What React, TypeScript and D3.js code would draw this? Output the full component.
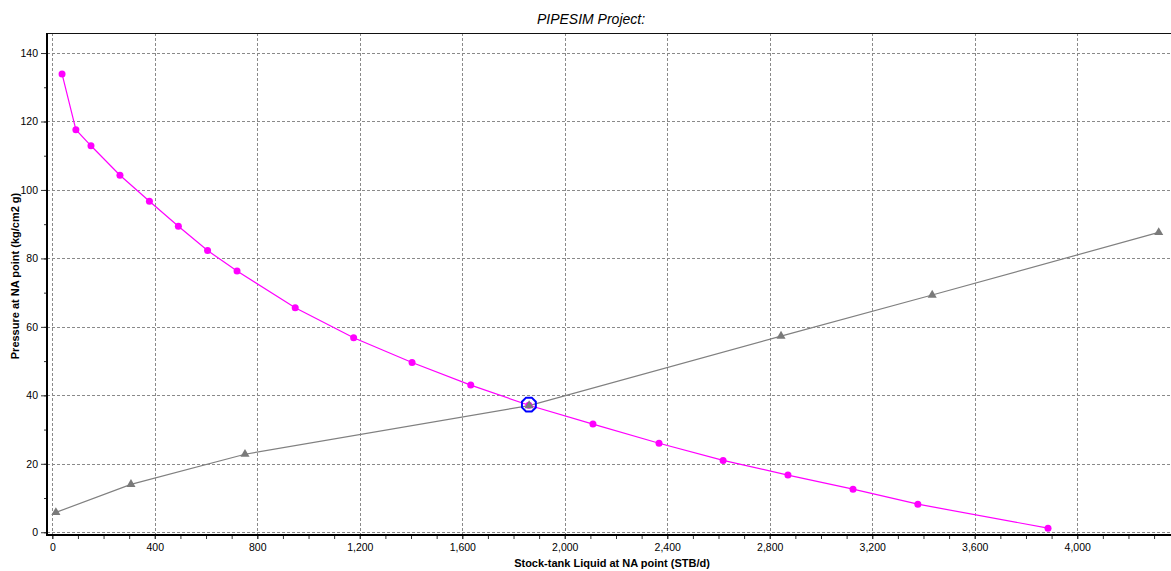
import React, { useEffect, useRef } from "react";
import * as d3 from "d3";

// Outflow (system) curve: pressure at NA point vs liquid rate
const outflowRate = [38, 92, 151, 264, 379, 492, 606, 721, 948, 1176, 1404, 1633, 1860, 2110, 2368, 2618, 2871, 3125, 3378, 3886];
const outflowPressure = [133.9, 117.6, 112.9, 104.3, 96.7, 89.4, 82.3, 76.3, 65.6, 56.8, 49.6, 43.0, 37.1, 31.6, 26.0, 21.0, 16.7, 12.6, 8.2, 1.2];

// Inflow curve
const inflowRate = [14, 307, 752, 1861, 2844, 3434, 4318];
const inflowPressure = [5.8, 14.0, 22.8, 37.0, 57.3, 69.3, 87.6];

// Operating point (intersection)
const operatingRate = [1860];
const operatingPressure = [37.3];

const xTicks = [0, 400, 800, 1200, 1600, 2000, 2400, 2800, 3200, 3600, 4000];
const yTicks = [0, 20, 40, 60, 80, 100, 120, 140];

const W = 1171;
const H = 571;
const left = 47;
const right = 1171;
const top = 33;
const bottom = 535;

const FONT = "'Liberation Sans', Arial, sans-serif";

export default function App() {
  const ref = useRef<SVGSVGElement | null>(null);

  useEffect(() => {
    const svg = d3.select(ref.current);
    svg.selectAll("*").remove();

    const x = d3.scaleLinear().domain([-20.7, 4366]).range([left, right]);
    const y = d3.scaleLinear().domain([-0.8, 145.85]).range([bottom, top]);

    svg.append("rect").attr("width", W).attr("height", H).attr("fill", "#fff");

    // title
    svg
      .append("text")
      .attr("x", 591)
      .attr("y", 24)
      .attr("text-anchor", "middle")
      .attr("font-family", FONT)
      .attr("font-style", "italic")
      .attr("font-size", 14)
      .attr("fill", "#000")
      .text("PIPESIM Project:");

    // grid
    const grid = svg.append("g").attr("stroke", "#8a8a8a").attr("stroke-dasharray", "3,2").attr("stroke-width", 1);
    xTicks.forEach((t) => {
      const px = Math.round(x(t)) + 0.5;
      grid.append("line").attr("x1", px).attr("x2", px).attr("y1", top).attr("y2", bottom);
    });
    yTicks.forEach((t) => {
      const py = Math.round(y(t)) + 0.5;
      grid.append("line").attr("x1", left).attr("x2", right).attr("y1", py).attr("y2", py);
    });

    // frame
    svg.append("line").attr("x1", left).attr("x2", right).attr("y1", top + 0.5).attr("y2", top + 0.5).attr("stroke", "#111").attr("stroke-width", 1);

    // x axis
    const xMinor = d3.range(0, 4400, 100);
    const xAxisMinor = d3.axisBottom(x).tickValues(xMinor).tickSize(4).tickFormat(() => "");
    const gxm = svg.append("g").attr("transform", `translate(0,${bottom})`).call(xAxisMinor);
    gxm.select(".domain").remove();
    gxm.selectAll("line").attr("stroke", "#333");

    const xAxis = d3.axisBottom(x).tickValues(xTicks).tickSize(4).tickPadding(5).tickFormat(d3.format(","));
    const gx = svg.append("g").attr("transform", `translate(0,${bottom})`).call(xAxis);
    gx.select(".domain").remove();
    gx.selectAll("line").attr("stroke", "#333");
    gx.selectAll("text").attr("font-family", FONT).attr("font-size", 10.5).attr("fill", "#000");

    // y axis
    const yMinor = d3.range(0, 150, 10);
    const yAxisMinor = d3.axisLeft(y).tickValues(yMinor).tickSize(3).tickFormat(() => "");
    const gym = svg.append("g").attr("transform", `translate(${left},0)`).call(yAxisMinor);
    gym.select(".domain").remove();
    gym.selectAll("line").attr("stroke", "#333");

    const yAxis = d3.axisLeft(y).tickValues(yTicks).tickSize(6).tickPadding(3).tickFormat(d3.format("d"));
    const gy = svg.append("g").attr("transform", `translate(${left},0)`).call(yAxis);
    gy.select(".domain").remove();
    gy.selectAll("line").attr("stroke", "#333");
    gy.selectAll("text").attr("font-family", FONT).attr("font-size", 10.5).attr("fill", "#000");

    // axis lines
    svg.append("line").attr("x1", left).attr("x2", left).attr("y1", top).attr("y2", bottom + 1).attr("stroke", "#000").attr("stroke-width", 2);
    svg.append("line").attr("x1", left - 1).attr("x2", right).attr("y1", bottom).attr("y2", bottom).attr("stroke", "#000").attr("stroke-width", 2);

    // axis titles
    svg
      .append("text")
      .attr("x", 612)
      .attr("y", 567)
      .attr("text-anchor", "middle")
      .attr("font-family", FONT)
      .attr("font-weight", "bold")
      .attr("font-size", 11)
      .text("Stock-tank Liquid at NA point (STB/d)");
    svg
      .append("text")
      .attr("transform", "translate(19,276) rotate(-90)")
      .attr("text-anchor", "middle")
      .attr("font-family", FONT)
      .attr("font-weight", "bold")
      .attr("font-size", 11)
      .text("Pressure at NA point (kg/cm2 g)");

    const line = d3
      .line<[number, number]>()
      .x((d) => x(d[0]))
      .y((d) => y(d[1]));

    const inflow: [number, number][] = inflowRate.map((r, i) => [r, inflowPressure[i]]);
    const outflow: [number, number][] = outflowRate.map((r, i) => [r, outflowPressure[i]]);

    svg.append("path").datum(inflow).attr("d", line).attr("fill", "none").attr("stroke", "#808080").attr("stroke-width", 1.2);
    svg.append("path").datum(outflow).attr("d", line).attr("fill", "none").attr("stroke", "#ff00ff").attr("stroke-width", 1.2);

    svg
      .append("g")
      .selectAll("circle")
      .data(outflow)
      .join("circle")
      .attr("cx", (d) => x(d[0]))
      .attr("cy", (d) => y(d[1]))
      .attr("r", 3.5)
      .attr("fill", "#ff00ff");

    const tri = d3.symbol().type(d3.symbolTriangle).size(36);
    svg
      .append("g")
      .selectAll("path")
      .data(inflow)
      .join("path")
      .attr("transform", (d) => `translate(${x(d[0])},${y(d[1])})`)
      .attr("d", tri() as string)
      .attr("fill", "#7a7a7a");

    // operating point marker (octagon)
    const oct = (r: number) =>
      d3.range(8).map((k) => {
        const a = (Math.PI / 8) * (2 * k + 1);
        return [r * Math.cos(a), r * Math.sin(a)] as [number, number];
      });
    svg
      .append("g")
      .selectAll("polygon")
      .data(operatingRate.map((r, i) => [r, operatingPressure[i]]))
      .join("polygon")
      .attr("points", (d) => oct(7.5).map((p) => `${x(d[0]) + p[0]},${y(d[1]) + p[1]}`).join(" "))
      .attr("fill", "none")
      .attr("stroke", "#0000ff")
      .attr("stroke-width", 2);
  }, []);

  return <svg ref={ref} width={W} height={H} style={{ display: "block", position: "absolute", left: 0, top: 0 }} />;
}
